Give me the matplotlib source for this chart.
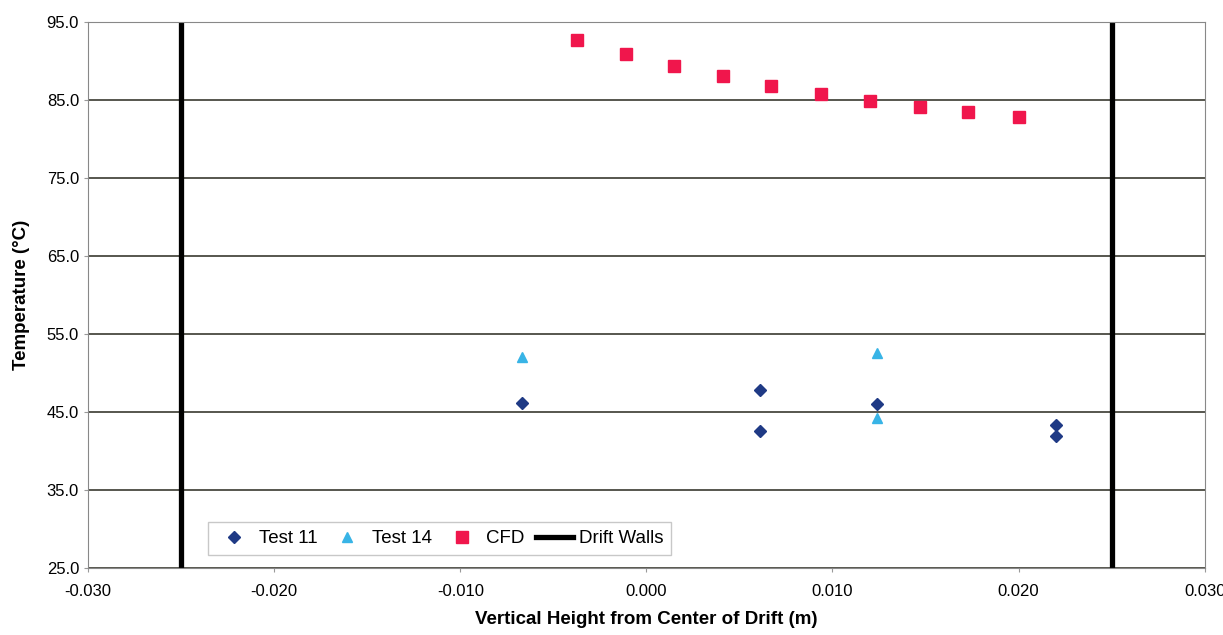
import matplotlib.pyplot as plt
from matplotlib.ticker import FormatStrFormatter

plt.rcParams['font.family'] = ['Liberation Sans', 'DejaVu Sans']

# Test 11 thermocouple readings
test11_x = [-0.0067, 0.0061, 0.0061, 0.0124, 0.0220, 0.0220]
test11_y = [46.2, 47.8, 42.6, 46.1, 43.4, 41.9]

# Test 14 readings
test14_x = [-0.0067, 0.0124, 0.0124]
test14_y = [52.1, 52.6, 44.3]

# CFD profile
cfd_x = [-0.0037, -0.0011, 0.0015, 0.0041, 0.0067, 0.0094, 0.0120, 0.0147, 0.0173, 0.0200]
cfd_y = [92.7, 90.9, 89.4, 88.1, 86.8, 85.8, 84.9, 84.1, 83.5, 82.9]

# drift walls
wall_left_x = [-0.025, -0.025]
wall_right_x = [0.025, 0.025]
wall_y = [25.0, 95.0]

fig = plt.figure(figsize=(12.23, 6.35), dpi=100)
ax = fig.add_axes([0.072, 0.105, 0.913, 0.86])

ax.plot(test11_x, test11_y, ls='none', marker='D', ms=6, color='#1f3a85', label='Test 11')
ax.plot(test14_x, test14_y, ls='none', marker='^', ms=7, color='#38b4e6', label='Test 14')
ax.plot(cfd_x, cfd_y, ls='none', marker='s', ms=8, color='#f0164c', label='CFD')
ax.plot(wall_left_x, wall_y, color='black', lw=3.8, label='Drift Walls')
ax.plot(wall_right_x, wall_y, color='black', lw=3.8)

ax.set_xlim(-0.030, 0.030)
ax.set_ylim(25, 95)
ax.set_xticks([-0.03, -0.02, -0.01, 0.0, 0.01, 0.02, 0.03])
ax.set_yticks([25, 35, 45, 55, 65, 75, 85, 95])
ax.xaxis.set_major_formatter(FormatStrFormatter('%.3f'))
ax.yaxis.set_major_formatter(FormatStrFormatter('%.1f'))
ax.tick_params(labelsize=12, length=3, color='#999999')
ax.tick_params(axis='x', pad=8)

ax.grid(axis='y', color='#3a3a30', lw=1.2)
ax.set_axisbelow(True)
for s in ax.spines.values():
    s.set_color('#888888')

ax.set_xlabel('Vertical Height from Center of Drift (m)', fontsize=13.5, fontweight='bold', labelpad=9)
ax.set_ylabel('Temperature (°C)', fontsize=13.5, fontweight='bold', labelpad=12)

leg = ax.legend(loc='lower left', bbox_to_anchor=(0.107, 0.024), ncol=4, fontsize=13.5,
                frameon=True, fancybox=False, edgecolor='#bbbbbb', handlelength=2.0,
                handletextpad=0.3, columnspacing=0.6, borderpad=0.42, borderaxespad=0)
leg.get_frame().set_linewidth(1)

plt.savefig('out.png', dpi=100)
